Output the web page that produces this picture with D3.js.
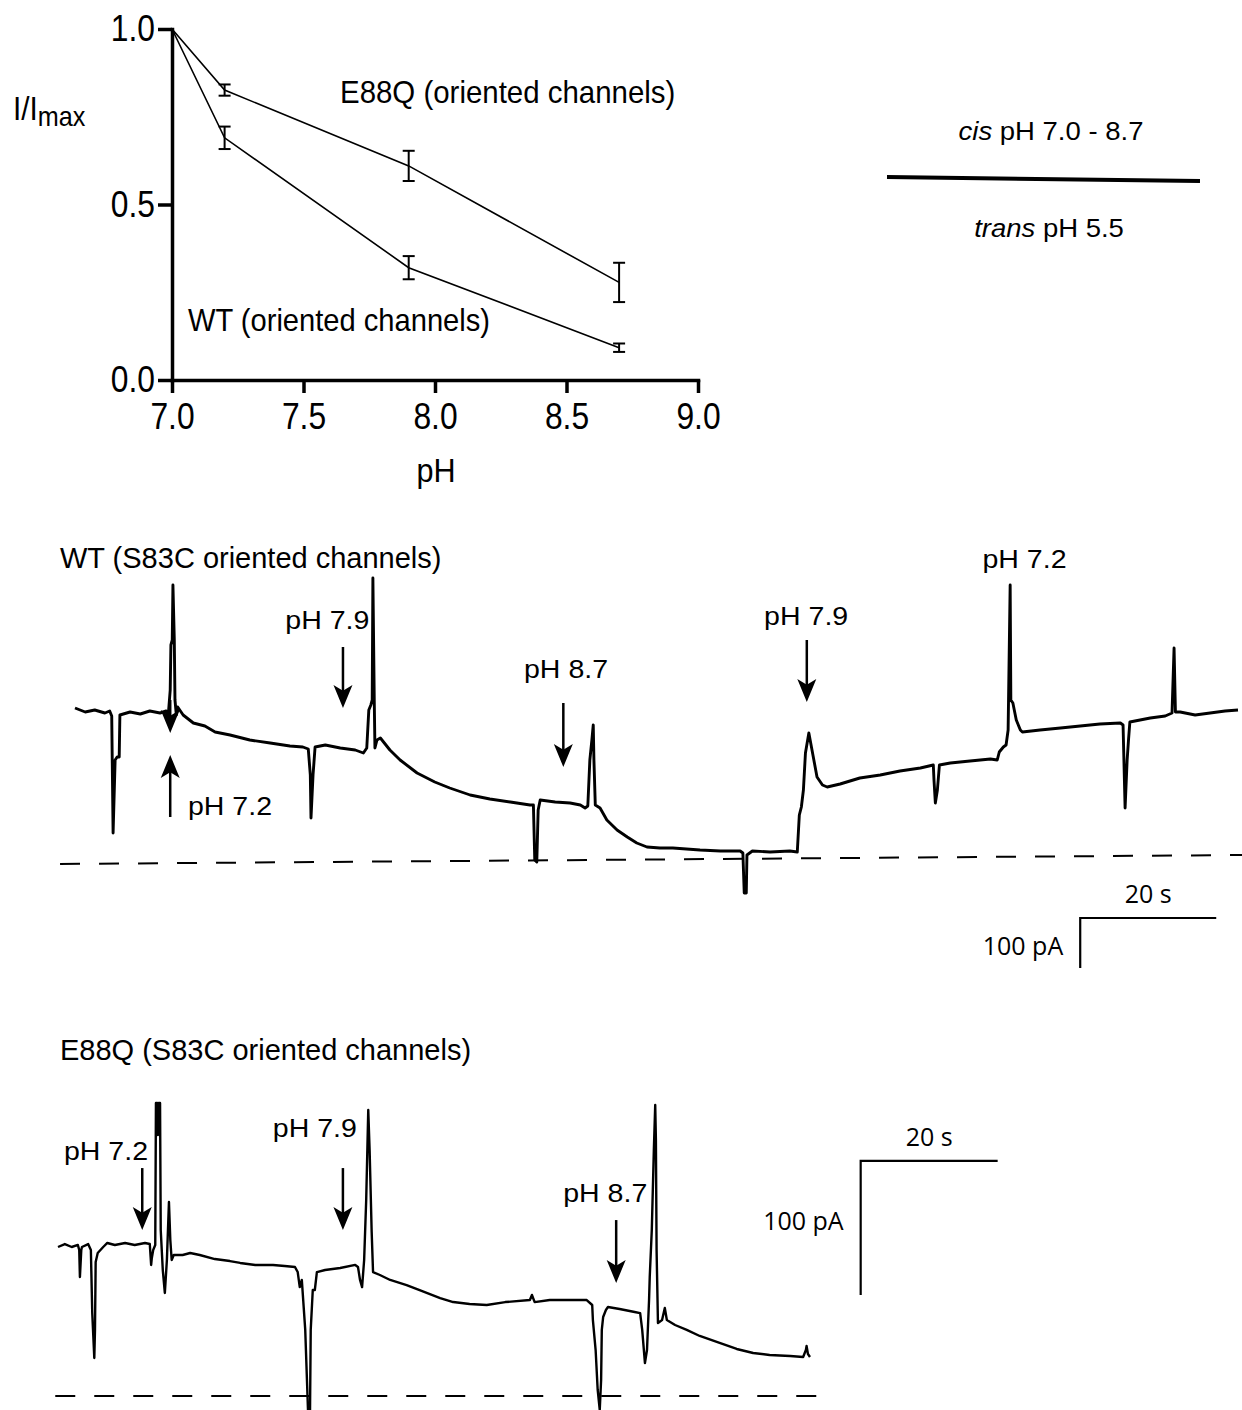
<!DOCTYPE html>
<html>
<head>
<meta charset="utf-8">
<script src="https://cdn.jsdelivr.net/npm/d3@7"></script>
<style>
  body { margin: 0; background: #fff; }
  svg { display: block; }
  text { font-family: "Liberation Sans", Arial, Helvetica, sans-serif; fill: #000; }
  .bar-label { font-family: "Open Sans", "Liberation Sans", sans-serif; }
</style>
</head>
<body>
<script>
let w = 1242;
let h = 1410;

// dose response (I/Imax vs cis pH)
let phLevels = [7.0, 7.2, 7.9, 8.7];
let wtMean = [1.0, 0.69, 0.32, 0.092];
let wtSem = [0, 0.032, 0.033, 0.012];
let e88qMean = [1.0, 0.826, 0.61, 0.278];
let e88qSem = [0, 0.016, 0.043, 0.056];
let phTicks = [7.0, 7.5, 8.0, 8.5, 9.0];
let ratioTicks = [0.0, 0.5, 1.0];

// WT current trace, [time s, current pA]
let wtTrace = [[0,312],[1.5,304],[2.9,308],[4.4,302],[5.1,306],[5.4,296],[5.6,62],[5.9,208],[6.2,214],[6.5,214],
  [6.6,298],[8.1,304],[9.6,300],[11.0,306],[12.5,302],[13.4,306],[13.7,296],[14.0,348],[14.1,438],[14.3,448],
  [14.4,558],[14.6,448],[14.7,328],[14.9,298],[15.1,314],[15.9,298],[17.4,282],[19.1,276],[20.6,264],[22.8,258],
  [25.7,248],[28.7,242],[31.6,236],[33.5,234],[34.3,230],[34.6,178],[34.7,92],[35.0,178],[35.3,234],[36.8,238],
  [39.0,232],[41.2,228],[42.4,222],[42.9,232],[43.2,308],[43.5,318],[43.7,328],[43.8,572],[44.0,328],[44.1,232],
  [44.4,248],[44.9,252],[46.3,228],[47.8,208],[50.3,182],[52.9,164],[55.1,152],[58.1,138],[61.0,130],[64.0,124],
  [66.9,118],[67.4,118],[67.6,8],[67.9,4],[68.1,108],[68.4,128],[70.6,124],[72.8,122],[74.3,118],[75.0,112],
  [75.4,116],[75.7,208],[76.0,248],[76.2,278],[76.3,208],[76.5,118],[77.2,112],[78.2,88],[79.7,68],[81.2,54],
  [82.6,42],[84.1,34],[86.0,32],[87.9,32],[91.9,28],[94.9,26],[97.8,26],[98.2,22],[98.4,-58],[98.7,-58],
  [98.8,18],[99.6,26],[102.2,24],[105.1,26],[106.2,24],[106.5,98],[106.8,114],[107.1,148],[107.4,222],[107.9,262],
  [108.5,218],[109.1,174],[109.9,158],[110.6,154],[112.5,160],[115.4,172],[118.4,178],[121.3,186],[124.3,192],[126.2,198],
  [126.3,168],[126.5,122],[126.8,148],[127.1,198],[128.7,202],[131.6,206],[134.6,210],[135.6,208],[135.9,224],[136.5,234],
  [136.9,238],[137.2,268],[137.5,558],[137.6,328],[137.9,322],[138.4,288],[139.0,268],[139.3,264],[141.9,268],[144.9,272],
  [147.8,276],[150.7,280],[153.7,282],[154.1,278],[154.4,112],[154.7,208],[154.9,248],[155.1,284],[158.1,292],[160.3,296],
  [161.3,302],[161.6,432],[161.8,304],[162.5,304],[164.7,298],[166.9,302],[169.1,306],[171.0,308]];
let wtZero = [[-2.2, 0], [171.6, 18]];
// solution exchanges: time, arrow tail and tip (pA)
let wtArrows = [[14.0, 328, 262], [14.0, 94, 218], [39.4, 434, 312], [71.8, 322, 194], [107.6, 448, 324]];
let wtLabels = [["pH 7.2", 16.6, 98, "start"], ["pH 7.9", 37.1, 470, "middle"], ["pH 8.7", 72.2, 372, "middle"],
  ["pH 7.9", 107.5, 478, "middle"], ["pH 7.2", 139.6, 592, "middle"]];

// E88Q current trace, [time s, current pA]
let e88qTrace = [[0,111.2],[1.0,113.4],[2.0,111.2],[2.9,112.7],[3.1,109.0],[3.2,88.8],[3.4,109.0],[3.5,111.2],[4.4,113.4],[4.8,109.0],
  [5.0,61.9],[5.3,28.4],[5.4,49.3],[5.5,100.0],[5.8,106.7],[6.6,111.2],[7.2,114.2],[8.3,112.7],[9.8,114.2],[11.2,112.7],
  [12.7,114.2],[13.4,113.4],[13.6,97.8],[13.7,103.0],[13.9,109.0],[14.2,112.7],[14.3,218.7],[14.5,218.7],[14.6,194.8],[14.7,218.7],
  [14.9,218.7],[15.0,123.9],[15.3,94.0],[15.6,76.9],[15.9,101.5],[16.2,144.8],[16.4,116.4],[16.6,101.5],[16.9,105.2],[18.2,105.2],
  [19.3,106.7],[20.7,105.2],[22.9,102.2],[25.1,100.7],[26.6,99.3],[28.8,97.8],[31.4,97.8],[33.1,97.0],[34.6,96.3],[35.0,92.5],
  [35.3,81.3],[35.6,86.6],[36.1,49.3],[36.5,-10.4],[36.8,-10.4],[36.9,49.3],[37.2,79.1],[37.5,79.1],[37.8,92.5],[39.0,94.0],
  [41.2,95.5],[43.4,97.8],[43.8,96.3],[44.1,86.6],[44.4,81.3],[44.7,101.5],[45.0,146.3],[45.3,213.4],[45.5,183.6],[45.8,122.4],
  [46.0,92.5],[47.0,90.3],[48.5,86.6],[50.9,82.8],[52.8,79.1],[55.8,73.1],[57.7,70.1],[60.1,68.7],[62.6,67.9],[65.3,70.1],
  [68.9,71.6],[69.2,75.4],[69.6,70.1],[71.8,71.6],[74.7,71.6],[77.2,71.6],[78.0,67.9],[78.1,56.7],[78.5,34.3],[78.8,4.5],
  [79.1,-10.4],[79.3,11.9],[79.4,49.3],[79.6,59.0],[80.0,64.2],[80.3,66.4],[82.0,64.9],[84.2,62.7],[85.0,61.9],[85.3,49.3],
  [85.7,24.6],[86.0,34.3],[86.3,71.6],[86.4,88.8],[86.7,123.9],[87.0,183.6],[87.2,217.2],[87.3,191.0],[87.4,109.0],[87.6,54.5],
  [88.2,56.7],[88.6,65.7],[88.9,56.7],[90.1,53.0],[91.8,49.3],[93.7,44.8],[96.6,39.6],[99.1,35.1],[101.5,32.1],[103.9,30.6],
  [106.9,29.9],[108.8,29.1],[109.2,34.3],[109.3,37.3],[109.5,31.3],[109.8,29.1]];
let e88qZero = [[-0.4, 0], [110.8, 0]];
let e88qArrows = [[12.3, 170.1, 123.9], [41.6, 170.1, 123.9], [81.5, 131.3, 84.3]];
let e88qLabels = [["pH 7.2", 7.0, 176.1, "middle"], ["pH 7.9", 37.5, 193.3, "middle"], ["pH 8.7", 79.9, 144.8, "middle"]];

// scale bars: 20 s, 100 pA
let barTime = 20;
let barCurrent = 100;

let svg = d3.select("body")
  .append("svg")
  .attr("width", w)
  .attr("height", h);

//Dose response panel
let xScale = d3.scaleLinear().domain([7, 9]).range([172, 698]);
let yScale = d3.scaleLinear().domain([0, 1]).range([380, 29]);
let condensed = 0.86;

let xAxis = svg.append("g")
  .attr("transform", "translate(0,380)")
  .call(d3.axisBottom(xScale).tickValues(phTicks).tickFormat(d3.format(".1f"))
    .tickSize(13).tickSizeOuter(0).tickPadding(10));
let yAxis = svg.append("g")
  .attr("transform", "translate(172,0)")
  .call(d3.axisLeft(yScale).tickValues(ratioTicks).tickFormat(d3.format(".1f"))
    .tickSize(14).tickSizeOuter(0).tickPadding(3));

[xAxis, yAxis].forEach(function(a) {
  a.select(".domain").attr("stroke-width", 3.5).attr("stroke-linecap", "square");
  a.selectAll(".tick line").attr("stroke-width", 3.5);
  a.selectAll(".tick text")
    .attr("font-family", "'Liberation Sans', Arial, sans-serif")
    .attr("font-size", 37)
    .attr("fill", "#000");
});
xAxis.selectAll(".tick text").attr("transform", "scale(" + condensed + ",1)");
yAxis.selectAll(".tick text")
  .attr("x", -17 / condensed)
  .attr("transform", "scale(" + condensed + ",1)");

let line = d3.line()
  .x(function(d) { return xScale(d[0]); })
  .y(function(d) { return yScale(d[1]); });

function drawSeries(means, sems) {
  let pts = phLevels.map(function(p, i) { return [p, means[i], sems[i]]; });
  svg.append("path")
    .datum(pts)
    .attr("d", line)
    .attr("fill", "none")
    .attr("stroke", "#000")
    .attr("stroke-width", 1.6);
  let eb = svg.append("g").selectAll("g")
    .data(pts.filter(function(d) { return d[2] > 0; }))
    .enter()
    .append("g")
    .attr("stroke", "#000")
    .attr("stroke-width", 2);
  eb.append("line")
    .attr("x1", function(d) { return xScale(d[0]); })
    .attr("x2", function(d) { return xScale(d[0]); })
    .attr("y1", function(d) { return yScale(d[1] - d[2]); })
    .attr("y2", function(d) { return yScale(d[1] + d[2]); });
  [-1, 1].forEach(function(s) {
    eb.append("line")
      .attr("x1", function(d) { return xScale(d[0]) - 6; })
      .attr("x2", function(d) { return xScale(d[0]) + 6; })
      .attr("y1", function(d) { return yScale(d[1] + s * d[2]); })
      .attr("y2", function(d) { return yScale(d[1] + s * d[2]); });
  });
}
drawSeries(wtMean, wtSem);
drawSeries(e88qMean, e88qSem);

function label(str, x, y, size, sx, anchor) {
  return svg.append("text")
    .attr("transform", "translate(" + x + "," + y + ") scale(" + sx + ",1)")
    .attr("text-anchor", anchor || "middle")
    .attr("font-size", size)
    .text(str);
}

label("E88Q (oriented channels)", 340, 103, 32, 0.92, "start");
label("WT (oriented channels)", 188, 331, 32, 0.91, "start");
label("pH", 436, 482, 34, 0.9, "middle");
let yl = label("I/I", 13, 120, 33, 0.9, "start");
yl.append("tspan").attr("dy", 6).attr("font-size", 28).text("max");

//cis / trans sketch
let cis = svg.append("text")
  .attr("transform", "translate(1051,140) scale(1.1,1)")
  .attr("text-anchor", "middle")
  .attr("font-size", 25);
cis.append("tspan").attr("font-style", "italic").text("cis");
cis.append("tspan").text(" pH 7.0 - 8.7");
let trans = svg.append("text")
  .attr("transform", "translate(1049,237) scale(1.1,1)")
  .attr("text-anchor", "middle")
  .attr("font-size", 25);
trans.append("tspan").attr("font-style", "italic").text("trans");
trans.append("tspan").text(" pH 5.5");
svg.append("line")
  .attr("x1", 887).attr("y1", 177)
  .attr("x2", 1200).attr("y2", 181)
  .attr("stroke", "#000")
  .attr("stroke-width", 4);

//Current traces
function arrow(x, yTail, yTip) {
  let dir = yTip > yTail ? 1 : -1;
  let len = 23, half = 9.5;
  svg.append("line")
    .attr("x1", x).attr("x2", x)
    .attr("y1", yTail).attr("y2", yTip - dir * len * 0.7)
    .attr("stroke", "#000")
    .attr("stroke-width", 2.5);
  svg.append("path")
    .attr("d", "M" + x + "," + yTip +
      "L" + (x - half) + "," + (yTip - dir * len) +
      "L" + x + "," + (yTip - dir * len * 0.75) +
      "L" + (x + half) + "," + (yTip - dir * len) + "Z")
    .attr("fill", "#000");
}

function drawTrace(opt) {
  let tx = d3.scaleLinear().domain(opt.tDomain).range(opt.xRange);
  let iy = d3.scaleLinear().domain([0, 100]).range(opt.yRange);
  let traceLine = d3.line()
    .x(function(d) { return tx(d[0]); })
    .y(function(d) { return iy(d[1]); });

  svg.append("text")
    .attr("x", 60)
    .attr("y", opt.titleY)
    .attr("font-size", 29)
    .text(opt.title);

  svg.append("path")
    .datum(opt.zero)
    .attr("d", traceLine)
    .attr("fill", "none")
    .attr("stroke", "#000")
    .attr("stroke-width", 2)
    .attr("stroke-dasharray", "20,19");

  svg.append("path")
    .datum(opt.trace)
    .attr("d", traceLine)
    .attr("fill", "none")
    .attr("stroke", "#000")
    .attr("stroke-width", opt.stroke)
    .attr("stroke-linejoin", "round");

  opt.arrows.forEach(function(a) {
    arrow(tx(a[0]), iy(a[1]), iy(a[2]));
  });
  opt.labels.forEach(function(l) {
    label(l[0], tx(l[1]), iy(l[2]), 25.5, 1.12, l[3]);
  });

  // scale bar
  let b = opt.bar;
  let x0 = tx(b[0]), x1 = tx(b[0] + barTime);
  let y0 = iy(b[1]), y1 = iy(b[1] - barCurrent);
  svg.append("path")
    .attr("d", "M" + x1 + "," + y0 + "H" + x0 + "V" + y1)
    .attr("fill", "none")
    .attr("stroke", "#000")
    .attr("stroke-width", 2.2);
  svg.append("text")
    .attr("class", "bar-label")
    .attr("x", (x0 + x1) / 2)
    .attr("y", y0 - 15)
    .attr("text-anchor", "middle")
    .attr("font-size", 25)
    .text(barTime + " s");
  svg.append("text")
    .attr("class", "bar-label")
    .attr("x", x0 - 17)
    .attr("y", opt.pAy)
    .attr("text-anchor", "end")
    .attr("font-size", 25)
    .text(barCurrent + " pA");
}

drawTrace({
  title: "WT (S83C oriented channels)", titleY: 568,
  trace: wtTrace, zero: wtZero, arrows: wtArrows, labels: wtLabels,
  tDomain: [0, 171], xRange: [75, 1238], yRange: [864, 814],
  bar: [147.8, -108], pAy: 955, stroke: 2.9
});

drawTrace({
  title: "E88Q (S83C oriented channels)", titleY: 1060,
  trace: e88qTrace, zero: e88qZero, arrows: e88qArrows, labels: e88qLabels,
  tDomain: [0, 109.8], xRange: [58, 810], yRange: [1396, 1262],
  bar: [117.2, 175.4], pAy: 1230, stroke: 2.4
});
</script>
</body>
</html>
